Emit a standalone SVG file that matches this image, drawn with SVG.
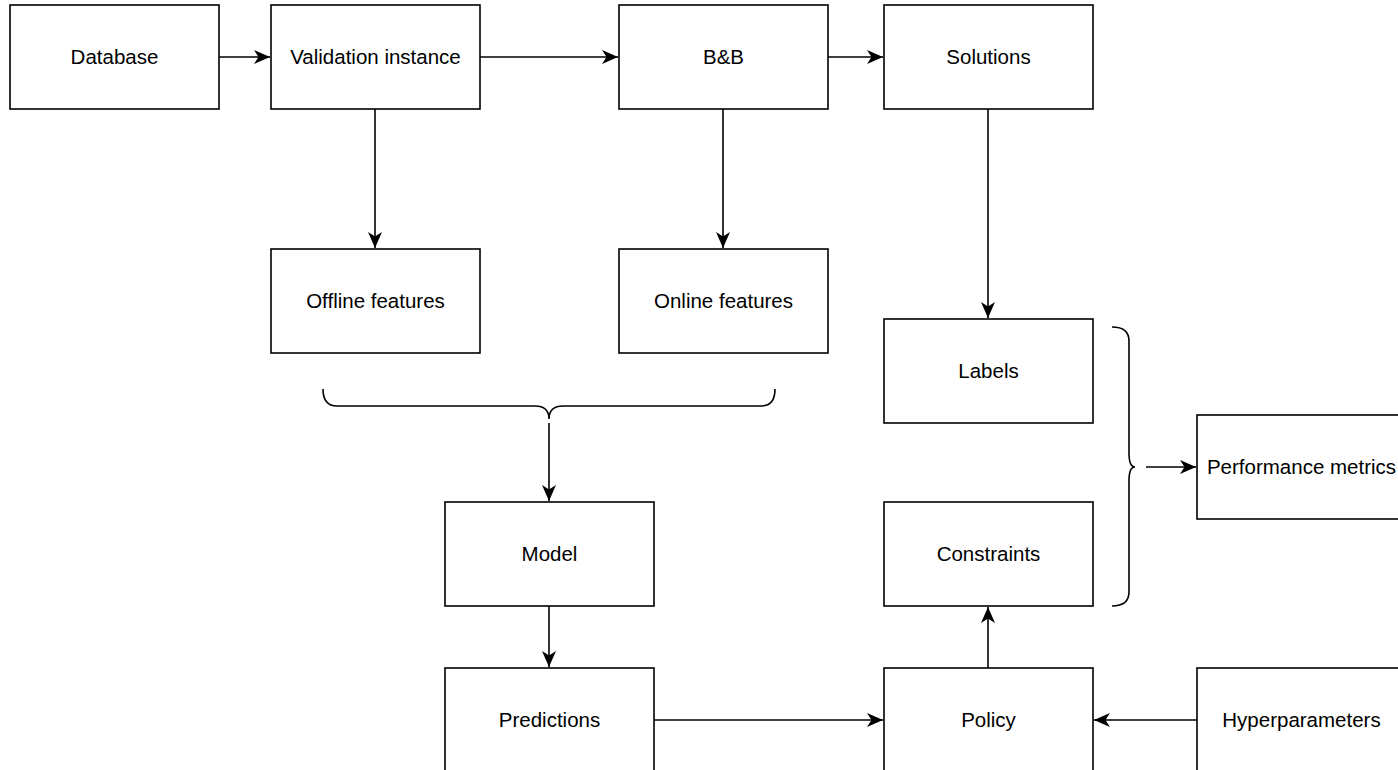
<svg xmlns="http://www.w3.org/2000/svg" width="1398" height="770" viewBox="0 0 1398 770">
  <style>
    .box rect { fill: #ffffff; stroke: #000000; stroke-width: 1.6; }
    .box text { font-family: "Liberation Sans", Arial, Helvetica, sans-serif; font-size: 20.5px; fill: #000000; text-anchor: middle; }
    .edge { fill: none; stroke: #000000; stroke-width: 1.6; }
  </style>
  <defs>
    <marker id="arrow" markerUnits="userSpaceOnUse" markerWidth="18" markerHeight="16" refX="16" refY="7" orient="auto">
      <path d="M0,0 L16,7 L0,14 L4.5,7 Z" fill="#000000"/>
    </marker>
  </defs>
  <rect width="1398" height="770" fill="#ffffff"/>

  <g id="connectors">
    <path class="edge" d="M219,57 H270" marker-end="url(#arrow)"/>
    <path class="edge" d="M480,57 H618" marker-end="url(#arrow)"/>
    <path class="edge" d="M828,57 H883" marker-end="url(#arrow)"/>
    <path class="edge" d="M375,109 V248" marker-end="url(#arrow)"/>
    <path class="edge" d="M723,109 V248" marker-end="url(#arrow)"/>
    <path class="edge" d="M988,109 V318" marker-end="url(#arrow)"/>
    <!-- brace gathering offline and online features -->
    <path class="edge" d="M323,389 Q323,406 337,406 H535 Q549,406 549,419 Q549,406 563,406 H761 Q775,406 775,389"/>
    <path class="edge" d="M549,423 V501" marker-end="url(#arrow)"/>
    <path class="edge" d="M549,606 V667" marker-end="url(#arrow)"/>
    <path class="edge" d="M654,720 H883" marker-end="url(#arrow)"/>
    <path class="edge" d="M1197,720 H1094" marker-end="url(#arrow)"/>
    <path class="edge" d="M988,668 V607" marker-end="url(#arrow)"/>
    <!-- brace gathering labels and constraints -->
    <path class="edge" d="M1112,327 Q1129,327 1129,341 V453 Q1129,467 1135,467 Q1129,467 1129,481 V592 Q1129,606 1112,606"/>
    <path class="edge" d="M1146,467 H1196" marker-end="url(#arrow)"/>
  </g>

  <g id="database" class="box"><rect x="10" y="5" width="209" height="104"/><text x="114.5" y="64">Database</text></g>
  <g id="validation-instance" class="box"><rect x="271" y="5" width="209" height="104"/><text x="375.5" y="64">Validation instance</text></g>
  <g id="bnb" class="box"><rect x="619" y="5" width="209" height="104"/><text x="723.5" y="64">B&amp;B</text></g>
  <g id="solutions" class="box"><rect x="884" y="5" width="209" height="104"/><text x="988.5" y="64">Solutions</text></g>
  <g id="offline-features" class="box"><rect x="271" y="249" width="209" height="104"/><text x="375.5" y="308">Offline features</text></g>
  <g id="online-features" class="box"><rect x="619" y="249" width="209" height="104"/><text x="723.5" y="308">Online features</text></g>
  <g id="labels" class="box"><rect x="884" y="319" width="209" height="104"/><text x="988.5" y="378">Labels</text></g>
  <g id="constraints" class="box"><rect x="884" y="502" width="209" height="104"/><text x="988.5" y="561">Constraints</text></g>
  <g id="performance-metrics" class="box"><rect x="1197" y="415" width="209" height="104"/><text x="1301.5" y="474">Performance metrics</text></g>
  <g id="model" class="box"><rect x="445" y="502" width="209" height="104"/><text x="549.5" y="561">Model</text></g>
  <g id="predictions" class="box"><rect x="445" y="668" width="209" height="104"/><text x="549.5" y="727">Predictions</text></g>
  <g id="policy" class="box"><rect x="884" y="668" width="209" height="104"/><text x="988.5" y="727">Policy</text></g>
  <g id="hyperparameters" class="box"><rect x="1197" y="668" width="209" height="104"/><text x="1301.5" y="727">Hyperparameters</text></g>
</svg>
